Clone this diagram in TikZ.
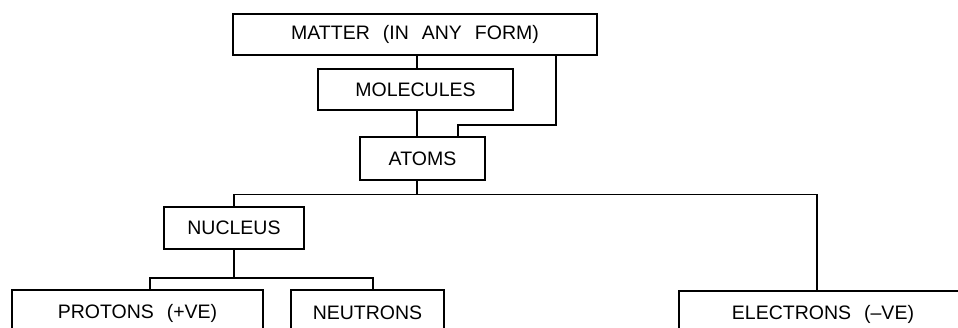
\documentclass[tikz,border=0pt]{standalone}
\usepackage{fontspec}
\setmainfont{Liberation Sans}
\tikzset{
  box/.style={draw, line width=1.6pt, rectangle, inner sep=0pt, font=\fontsize{19.5}{21}\selectfont},
  link/.style={line width=1.6pt}
}
\newcommand{\wgap}{\hspace{13pt}}
\begin{document}
\begin{tikzpicture}[x=1pt,y=-1pt]
\useasboundingbox (0,0) rectangle (958,327);
\clip (0,0) rectangle (958,327);
\node[box, minimum width=364pt, minimum height=41pt] (matter) at (415,34.5) {MATTER\wgap(IN\wgap ANY\wgap FORM)};
\node[box, minimum width=195pt, minimum height=41pt] (molecules) at (415.5,89.5) {MOLECULES};
\node[box, minimum width=125pt, minimum height=43pt] (atoms) at (422.5,158.5) {ATOMS};
\node[box, minimum width=140pt, minimum height=42pt] (nucleus) at (234,228) {NUCLEUS};
\node[box, minimum width=251pt, minimum height=46pt] (protons) at (137.5,313) {PROTONS\wgap(+VE)};
\node[box, minimum width=153pt, minimum height=46pt] (neutrons) at (367.5,313) {NEUTRONS};
\node[box, minimum width=288pt, minimum height=46pt] (electrons) at (823,314) {ELECTRONS\wgap(–VE)};
% connectors
\draw[link] ([xshift=2pt]matter.south) -- ([xshift=1.5pt]molecules.north);
\draw[link] ([xshift=-42pt]matter.south east) -- ++(0,69) -| ([xshift=-28pt]atoms.north east);
\draw[link] ([xshift=1.5pt]molecules.south) -- ([xshift=-5.5pt]atoms.north);
\draw[link] ([xshift=-5.5pt]atoms.south) -- ++(0,13.5) coordinate (ab);
\draw[link] (nucleus.north) |- (ab) -| ([xshift=139pt]electrons.north west);
\draw[link] (nucleus.south) -- ++(0,28) coordinate (nb);
\draw[link] ([xshift=139pt]protons.north west) |- (nb) -| ([xshift=83pt]neutrons.north west);
\end{tikzpicture}
\end{document}
